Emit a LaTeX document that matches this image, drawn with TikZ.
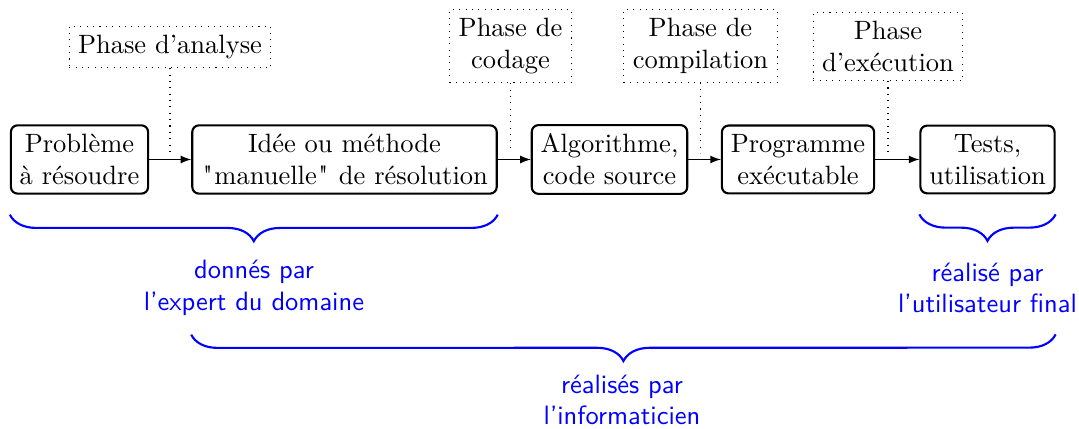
\documentclass[tikz,border=0pt]{standalone}
\usepackage{fontspec}
\usetikzlibrary{decorations.pathreplacing,calc}

% straight ASCII double quote, taken as a glyph so no TeX mapping curls it
\newcommand{\sq}{\kern0.65pt\XeTeXglyph\XeTeXcharglyph"22\relax\kern0.65pt}

\begin{document}
\begin{tikzpicture}[x={(0.37736pt,0)}, y={(0,-0.37736pt)},
  stage/.style={draw, thick, rounded corners=2.5pt, align=center},
  phase/.style={draw, dotted, align=center},
  flow/.style={-latex},
  link/.style={dotted},
  grp/.style={draw=blue, thick, decorate, decoration={brace, amplitude=10pt}},
  who/.style={text=blue, font=\sffamily, align=center}]

  \useasboundingbox (0,0) rectangle (1079,429);

  % main chain of stages
  \node[stage] (prob)  at (79.5,159.5)  {Problème\\à résoudre};
  \node[stage] (idee)  at (344.5,159.5) {Idée ou méthode\\\sq manuelle\sq{} de résolution};
  \node[stage] (algo)  at (609.5,159.5) {Algorithme,\\code source};
  \node[stage] (prog)  at (798,159.5)   {Programme\\exécutable};
  \node[stage] (tests) at (987.5,159.5) {Tests,\\utilisation};

  \draw[flow] (prob)  -- (idee);
  \draw[flow] (idee)  -- (algo);
  \draw[flow] (algo)  -- (prog);
  \draw[flow] (prog)  -- (tests);

  % phases above the transitions
  \node[phase] (pana)  at (170,47)    {Phase d’analyse};
  \node[phase] (pcod)  at (510.5,46)  {Phase de\\codage};
  \node[phase] (pcomp) at (700.5,46)  {Phase de\\compilation};
  \node[phase] (pexec) at (888,46.5)  {Phase\\d’exécution};

  \coordinate (lvl) at (0,153);
  \draw[link] (pana.south)  -- (pana.south  |- lvl);
  \draw[link] (pcod.south)  -- (pcod.south  |- lvl);
  \draw[link] (pcomp.south) -- (pcomp.south |- lvl);
  \draw[link] (pexec.south) -- (pexec.south |- lvl);

  % who does what
  \draw[grp] ($(idee.south east)+(0,20)$) -- ($(prob.south west)+(0,20)$);
  \draw[grp] ($(tests.south east)+(0,20)$) -- ($(tests.south west)+(0,20)$);
  \draw[grp] ($(tests.south east)+(0,140)$) -- ($(idee.south west)+(0,140)$);

  \node[who] (wexp)  at (254,288)   {donnés par\\l’expert du domaine};
  \node[who] (wuser) at (987.5,288) {réalisé par\\l’utilisateur final};
  \node[who] (winf)  at (622,400)   {réalisés par\\l’informaticien};
\end{tikzpicture}
\end{document}
